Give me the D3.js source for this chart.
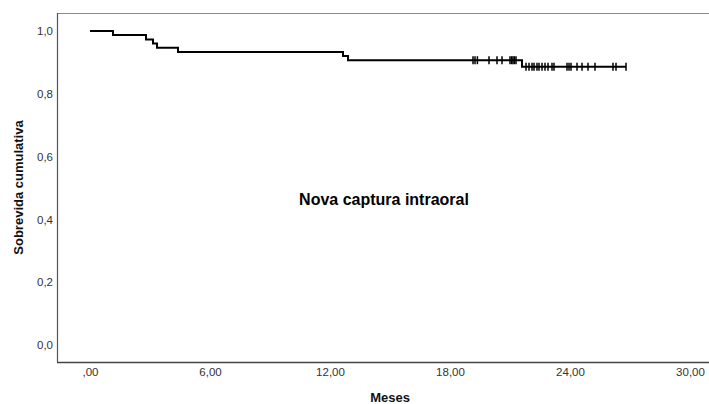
<!DOCTYPE html>
<html>
<head>
<meta charset="utf-8">
<script src="https://cdn.jsdelivr.net/npm/d3@7"></script>
<style>
  html, body { margin: 0; padding: 0; background: #fff; overflow: hidden; }
  svg { display: block; font-family: "Liberation Sans", Arial, sans-serif; }
</style>
</head>
<body>
<svg id="km" width="709" height="404"></svg>
<script>
// step times (months) and survival level after each step
const stepTimes = [0, 1.15, 2.8, 3.15, 3.35, 4.4, 12.65, 12.9, 21.6];
const stepSurvival = [1.0, 0.987, 0.973, 0.96, 0.947, 0.933, 0.92, 0.907, 0.886];
const endTime = 26.8;

// censored observations (months)
const censorTimes = [
  19.15, 19.25, 19.37, 19.95, 20.35, 20.6, 21.0, 21.08, 21.15, 21.22, 21.3,
  21.8, 21.95, 22.1, 22.2, 22.35, 22.45, 22.6, 22.75, 22.9, 23.1, 23.2,
  23.85, 23.95, 24.05, 24.35, 24.6, 24.9, 25.25, 26.15, 26.3, 26.8
];

const xTicks = [0, 6, 12, 18, 24, 30];
const xTickLabels = [",00", "6,00", "12,00", "18,00", "24,00", "30,00"];
const yTicks = [0, 0.2, 0.4, 0.6, 0.8, 1.0];
const yTickLabels = ["0,0", "0,2", "0,4", "0,6", "0,8", "1,0"];

const title = "Nova captura intraoral";
const xTitle = "Meses";
const yTitle = "Sobrevida cumulativa";

const frame = { left: 57, top: 13, right: 723, bottom: 362 };

const x = d3.scaleLinear().domain([0, 30]).range([90, 690]);
const y = d3.scaleLinear().domain([0, 1]).range([345, 31]);

const svg = d3.select("#km");

// plot frame
svg
  .append("rect")
  .attr("x", frame.left + 0.5)
  .attr("y", frame.top + 0.5)
  .attr("width", frame.right - frame.left)
  .attr("height", frame.bottom - frame.top)
  .attr("fill", "none")
  .attr("stroke", "#8a8a8a")
  .attr("stroke-width", 1);

svg
  .append("line")
  .attr("x1", frame.left)
  .attr("x2", frame.right)
  .attr("y1", frame.bottom + 0.5)
  .attr("y2", frame.bottom + 0.5)
  .attr("stroke", "#444")
  .attr("stroke-width", 1.5);

svg
  .append("line")
  .attr("x1", frame.left + 0.5)
  .attr("x2", frame.left + 0.5)
  .attr("y1", frame.top)
  .attr("y2", frame.bottom)
  .attr("stroke", "#555")
  .attr("stroke-width", 1.2);

// y axis labels
svg
  .append("g")
  .attr("transform", "translate(" + (frame.left - 4) + ",0)")
  .call(
    d3.axisLeft(y)
      .tickValues(yTicks)
      .tickFormat((d, i) => yTickLabels[i])
      .tickSize(0)
      .tickPadding(0)
  )
  .call((g) => g.select(".domain").remove())
  .selectAll("text")
  .attr("font-size", "11.5px")
  .attr("font-family", "Liberation Sans, Arial, sans-serif")
  .attr("fill", "#333");

// x axis labels
svg
  .append("g")
  .attr("transform", "translate(0," + (frame.bottom + 6) + ")")
  .call(
    d3.axisBottom(x)
      .tickValues(xTicks)
      .tickFormat((d, i) => xTickLabels[i])
      .tickSize(0)
      .tickPadding(0)
  )
  .call((g) => g.select(".domain").remove())
  .selectAll("text")
  .attr("font-size", "11.5px")
  .attr("font-family", "Liberation Sans, Arial, sans-serif")
  .attr("fill", "#333");

// axis titles
svg
  .append("text")
  .attr("x", (frame.left + frame.right) / 2)
  .attr("y", 402)
  .attr("text-anchor", "middle")
  .attr("font-size", "13px")
  .attr("font-weight", "bold")
  .attr("fill", "#111")
  .text(xTitle);

svg
  .append("text")
  .attr("transform", "translate(23," + (frame.top + frame.bottom) / 2 + ") rotate(-90)")
  .attr("text-anchor", "middle")
  .attr("font-size", "13px")
  .attr("font-weight", "bold")
  .attr("fill", "#111")
  .text(yTitle);

// label inside the plot
svg
  .append("text")
  .attr("x", 384)
  .attr("y", 205)
  .attr("text-anchor", "middle")
  .attr("font-size", "16px")
  .attr("font-weight", "bold")
  .attr("fill", "#000")
  .text(title);

// survival step curve
const curve = stepTimes.map((t, i) => ({ t: t, s: stepSurvival[i] }));
curve.push({ t: endTime, s: stepSurvival[stepSurvival.length - 1] });

svg
  .append("path")
  .datum(curve)
  .attr("fill", "none")
  .attr("stroke", "#000")
  .attr("stroke-width", 2)
  .attr(
    "d",
    d3
      .line()
      .curve(d3.curveStepAfter)
      .x((d) => x(d.t))
      .y((d) => y(d.s))
  );

const levelAt = (t) => {
  let s = stepSurvival[0];
  stepTimes.forEach((st, i) => {
    if (st <= t) s = stepSurvival[i];
  });
  return s;
};

// censor marks
svg
  .selectAll(".censor")
  .data(censorTimes)
  .enter()
  .append("line")
  .attr("class", "censor")
  .attr("x1", (d) => x(d))
  .attr("x2", (d) => x(d))
  .attr("y1", (d) => y(levelAt(d)) - 4)
  .attr("y2", (d) => y(levelAt(d)) + 4)
  .attr("stroke", "#000")
  .attr("stroke-width", 1.5);
</script>
</body>
</html>
